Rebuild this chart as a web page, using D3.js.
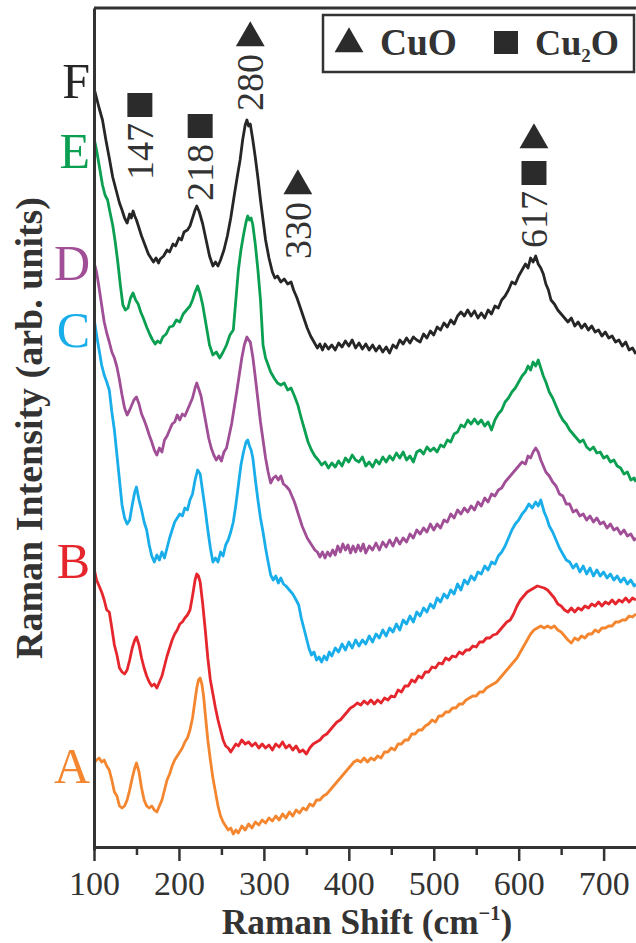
<!DOCTYPE html>
<html>
<head>
<meta charset="utf-8">
<script src="https://d3js.org/d3.v7.min.js"></script>
<style>
  body { margin: 0; background: #fff; }
  svg { display: block; }
</style>
</head>
<body>
<div id="chart"></div>
<script>
// Raman spectra, intensity in arb. units (stacked offsets), x in cm^-1
var specA = [[100,87],[103,90],[106,92],[109,88],[112,90],[115,84],[118,80],[121,70],[124,58],[127,54],[130,44],[133,42],[136,44],[139,50],[142,60],[145,72],[148,82],[150,87],[153,78],[156,62],[159,50],[162,44],[165,42],[168,44],[171,40],[174,38],[177,44],[180,50],[183,60],[186,70],[189,76],[192,84],[195,90],[198,94],[201,98],[204,102],[207,108],[210,112],[213,120],[216,132],[219,150],[221,162],[223,170],[225,172],[227,166],[229,154],[231,136],[234,110],[237,90],[240,72],[243,58],[246,44],[249,34],[252,28],[255,24],[258,20],[261,22],[264,16],[267,20],[270,17],[274,24],[278,20],[282,26],[286,22],[290,28],[294,25],[298,30],[302,27],[306,32],[310,29],[314,34],[318,30],[322,36],[326,32],[330,38],[334,34],[338,40],[342,37],[346,42],[350,40],[354,46],[358,44],[362,50],[366,50],[370,54],[374,56],[378,60],[382,64],[386,68],[390,72],[394,76],[398,80],[402,84],[406,88],[410,90],[414,88],[418,92],[422,88],[426,92],[430,90],[434,94],[438,92],[442,98],[446,98],[450,102],[454,100],[458,106],[462,106],[466,110],[470,110],[474,116],[478,116],[482,120],[486,120],[490,124],[494,126],[498,130],[502,128],[506,134],[510,134],[514,138],[518,138],[522,142],[526,142],[530,146],[534,146],[538,150],[542,152],[546,154],[550,154],[554,158],[558,158],[562,162],[566,164],[570,166],[574,168],[578,172],[582,176],[586,180],[590,184],[594,188],[598,192],[602,198],[606,204],[610,210],[614,216],[618,220],[622,222],[626,224],[630,222],[634,224],[638,222],[642,224],[646,220],[650,218],[654,214],[658,210],[662,207],[666,212],[670,210],[674,214],[678,212],[682,216],[686,216],[690,220],[694,218],[698,222],[702,222],[706,224],[710,224],[714,228],[718,228],[722,230],[726,230],[730,234],[734,233],[738,236]];

var specB = [[100,282],[103,270],[106,264],[109,258],[112,250],[115,240],[118,238],[121,222],[124,205],[127,195],[130,182],[133,178],[136,176],[139,180],[142,190],[145,202],[148,210],[150,213],[153,205],[156,192],[159,182],[162,174],[165,168],[168,164],[171,166],[174,162],[177,168],[180,174],[183,184],[186,194],[189,202],[192,210],[195,216],[198,220],[201,226],[204,228],[207,232],[210,235],[213,240],[216,254],[219,270],[221,276],[223,274],[225,268],[228,246],[231,220],[234,192],[237,170],[240,156],[243,142],[246,130],[249,120],[252,110],[255,104],[258,102],[261,98],[264,102],[267,106],[270,104],[274,110],[278,106],[282,108],[286,104],[290,107],[294,102],[298,106],[302,102],[306,105],[310,100],[314,106],[318,103],[322,108],[326,102],[330,105],[334,100],[338,104],[342,98],[346,100],[350,96],[354,102],[358,106],[362,108],[366,110],[370,114],[374,116],[378,120],[382,124],[386,128],[390,130],[394,134],[398,138],[402,142],[406,144],[410,147],[414,145],[418,149],[422,146],[426,150],[430,146],[434,150],[438,147],[442,152],[446,150],[450,154],[454,153],[458,160],[462,158],[466,164],[470,164],[474,170],[478,168],[482,174],[486,172],[490,178],[494,178],[498,183],[502,182],[506,187],[510,186],[514,192],[518,190],[522,194],[526,193],[530,198],[534,196],[538,200],[542,200],[546,204],[550,203],[554,208],[558,208],[562,212],[566,212],[570,215],[574,216],[578,220],[582,224],[586,228],[590,230],[594,236],[598,244],[602,250],[606,254],[610,258],[614,260],[618,262],[622,264],[626,263],[630,262],[634,260],[638,256],[642,252],[646,246],[650,244],[654,240],[658,238],[662,242],[666,238],[670,242],[674,240],[678,244],[682,242],[686,246],[690,244],[694,248],[698,244],[702,248],[706,246],[710,250],[714,246],[718,250],[722,248],[726,252],[730,248],[734,252],[738,250]];

var specC = [[100,532],[103,515],[106,500],[109,485],[112,475],[115,468],[118,460],[121,438],[124,420],[127,395],[130,370],[133,345],[136,332],[139,326],[142,330],[145,345],[148,358],[150,363],[153,350],[156,340],[159,328],[162,320],[165,305],[168,294],[171,288],[174,295],[177,290],[180,298],[183,292],[186,302],[189,312],[192,320],[195,328],[198,332],[201,336],[204,334],[207,342],[210,340],[213,350],[216,356],[219,370],[222,380],[225,376],[228,358],[231,340],[234,320],[237,302],[240,288],[243,292],[246,288],[249,298],[252,294],[255,305],[258,310],[261,318],[264,328],[267,345],[270,365],[273,385],[276,398],[279,408],[281,410],[283,404],[285,400],[287,392],[290,370],[293,350],[296,332],[299,318],[302,302],[305,288],[308,275],[311,270],[314,274],[317,267],[320,272],[323,266],[326,264],[330,260],[334,256],[338,250],[341,245],[344,232],[347,222],[350,212],[353,202],[356,195],[359,198],[362,190],[365,193],[368,188],[371,194],[374,190],[377,198],[380,194],[384,202],[388,198],[392,206],[396,200],[400,208],[404,202],[408,210],[412,204],[416,210],[420,206],[424,214],[428,208],[432,216],[436,212],[440,220],[444,214],[448,222],[452,218],[456,226],[460,220],[464,230],[468,226],[472,234],[476,228],[480,238],[484,234],[488,242],[492,238],[496,246],[500,242],[504,252],[508,248],[512,256],[516,252],[520,260],[524,256],[528,266],[532,260],[536,270],[540,266],[544,274],[548,270],[552,278],[556,276],[560,284],[564,280],[568,288],[572,286],[576,294],[580,298],[584,304],[588,312],[592,320],[596,326],[600,330],[604,336],[608,340],[612,346],[616,342],[620,348],[623,344],[626,350],[628,344],[630,338],[633,332],[636,324],[640,318],[644,310],[648,302],[652,296],[656,290],[660,288],[664,282],[668,286],[672,278],[676,284],[680,276],[684,282],[688,274],[692,280],[696,274],[700,278],[704,272],[708,276],[712,270],[716,274],[720,268],[724,272],[728,266],[732,270],[736,264],[738,266]];

var specD = [[100,588],[103,578],[106,562],[109,545],[112,528],[115,517],[118,508],[121,498],[124,492],[127,483],[130,470],[133,455],[136,442],[139,435],[142,440],[145,446],[147,450],[150,453],[153,446],[156,436],[159,430],[162,423],[165,415],[168,408],[171,400],[174,395],[177,402],[180,398],[183,410],[186,414],[189,420],[192,426],[195,428],[198,435],[201,430],[204,436],[207,434],[210,440],[213,446],[216,452],[219,462],[221,467],[223,462],[226,454],[229,440],[232,426],[235,412],[238,402],[241,395],[244,390],[247,394],[250,389],[253,398],[256,402],[259,414],[262,426],[265,442],[268,458],[271,475],[274,492],[277,505],[280,513],[282,510],[284,508],[287,493],[290,472],[293,450],[296,428],[299,410],[302,392],[305,378],[308,367],[311,372],[314,374],[317,370],[320,374],[323,366],[326,364],[330,360],[333,354],[336,348],[339,340],[342,332],[345,324],[348,318],[351,312],[354,308],[357,304],[360,300],[363,298],[366,293],[369,298],[372,292],[375,298],[378,294],[381,300],[384,295],[387,304],[390,298],[393,306],[396,300],[399,305],[402,297],[405,304],[408,298],[411,305],[414,299],[417,306],[420,297],[424,304],[428,300],[432,307],[436,300],[440,308],[444,303],[448,310],[452,304],[456,312],[460,306],[464,312],[468,308],[472,316],[476,312],[480,320],[484,316],[488,322],[492,318],[496,326],[500,320],[504,326],[508,322],[512,330],[516,328],[520,336],[524,332],[528,340],[532,336],[536,342],[540,338],[544,344],[548,340],[552,348],[556,344],[560,352],[564,348],[568,356],[572,354],[576,360],[580,362],[584,368],[588,372],[592,376],[596,380],[600,384],[604,388],[608,386],[611,394],[614,392],[617,398],[620,402],[623,398],[626,390],[629,384],[632,378],[636,374],[640,368],[644,364],[648,356],[652,354],[656,346],[660,346],[664,338],[668,340],[672,334],[676,336],[680,330],[684,334],[688,328],[692,332],[696,326],[700,328],[704,322],[708,326],[712,320],[716,322],[720,316],[724,320],[728,314],[732,316],[736,310],[738,312]];

var specE = [[100,712],[103,700],[106,685],[110,665],[113,655],[116,650],[119,637],[122,625],[125,608],[128,588],[131,565],[134,545],[137,540],[140,542],[143,552],[146,557],[149,550],[152,546],[155,538],[158,532],[162,523],[166,515],[169,510],[172,506],[175,509],[178,507],[181,513],[185,516],[189,523],[193,524],[197,530],[201,528],[205,536],[209,540],[213,544],[216,550],[219,558],[222,564],[225,556],[228,545],[232,525],[236,505],[240,495],[244,498],[248,492],[252,498],[256,505],[260,515],[264,520],[267,550],[270,580],[273,600],[276,615],[279,628],[281,634],[283,630],[285,632],[287,625],[290,605],[293,580],[296,550],[299,505],[302,492],[305,485],[308,478],[312,472],[316,467],[320,465],[324,467],[328,460],[332,462],[336,454],[340,445],[344,432],[348,420],[352,408],[356,400],[360,394],[364,390],[368,385],[372,388],[376,382],[380,387],[384,383],[388,389],[392,384],[396,392],[400,388],[404,395],[408,390],[412,388],[416,393],[420,384],[424,388],[428,383],[432,390],[436,386],[440,393],[444,388],[448,394],[452,390],[456,397],[460,392],[464,398],[468,390],[472,394],[476,388],[480,398],[484,400],[488,396],[492,403],[496,399],[500,402],[504,398],[508,405],[512,403],[516,410],[520,408],[524,416],[528,418],[532,425],[536,423],[540,430],[544,426],[548,431],[552,426],[556,430],[560,424],[564,428],[568,420],[572,430],[576,436],[580,440],[584,448],[588,452],[592,458],[596,462],[600,468],[604,474],[608,478],[611,484],[614,480],[617,488],[620,484],[623,490],[626,482],[629,474],[632,468],[636,458],[640,452],[644,444],[648,436],[652,430],[656,426],[660,420],[664,416],[668,412],[672,408],[676,410],[680,403],[684,400],[688,403],[692,397],[696,398],[700,392],[704,394],[708,388],[712,390],[716,384],[720,382],[724,376],[728,378],[732,370],[736,372],[738,368]];

var specF = [[100,762],[103,752],[106,742],[110,730],[114,710],[118,692],[122,673],[126,660],[130,647],[133,640],[136,632],[139,627],[142,636],[144,632],[146,639],[148,634],[150,630],[153,622],[156,614],[160,605],[164,596],[167,592],[170,588],[173,592],[176,587],[178,591],[182,594],[186,600],[189,598],[193,606],[196,604],[200,612],[203,610],[206,618],[210,620],[213,624],[216,632],[219,640],[221,644],[224,638],[228,626],[232,610],[236,594],[240,584],[243,588],[246,584],[249,590],[253,600],[257,614],[261,632],[265,654],[269,675],[272,690],[275,710],[278,725],[280,730],[282,724],[284,726],[287,710],[290,692],[293,672],[296,650],[299,630],[302,610],[306,592],[310,578],[313,572],[316,574],[320,568],[324,571],[328,566],[332,568],[335,560],[339,552],[343,542],[347,532],[351,522],[355,514],[359,508],[363,502],[366,506],[369,500],[372,506],[376,501],[380,505],[384,500],[388,507],[392,503],[396,509],[400,504],[404,510],[408,502],[412,507],[416,501],[420,506],[424,500],[428,505],[432,499],[436,504],[440,498],[444,503],[448,497],[452,505],[456,502],[460,510],[464,506],[468,512],[472,507],[476,513],[480,510],[484,508],[488,516],[492,512],[496,519],[500,515],[504,523],[508,520],[512,527],[516,523],[520,530],[524,526],[528,534],[532,538],[536,534],[540,540],[544,534],[548,539],[552,532],[556,537],[560,532],[564,540],[568,536],[572,544],[576,542],[580,550],[584,554],[588,560],[592,568],[596,566],[600,574],[604,580],[608,586],[611,582],[614,592],[617,588],[620,594],[623,586],[626,582],[629,576],[632,566],[635,560],[638,550],[642,546],[646,540],[650,536],[654,532],[658,528],[662,532],[666,524],[670,528],[674,522],[678,526],[682,520],[686,524],[690,518],[694,520],[698,514],[702,518],[706,512],[710,514],[714,508],[718,510],[722,504],[726,508],[730,500],[734,502],[738,496]];

var sampleNames = ["A", "B", "C", "D", "E", "F"];
var sampleColors = ["#f4862f", "#e5262d", "#19aeea", "#a04e96", "#0b9f52", "#262626"];
var spectra = [specA, specB, specC, specD, specE, specF];

var xTicks = [100, 200, 300, 400, 500, 600, 700];
var xMinorTicks = [150, 250, 350, 450, 550, 650, 750];

// peak annotations: label, phase markers (tri = CuO, sq = Cu2O)
var peakLabels = ["147", "218", "280", "330", "617"];
var peakMarkers = [["sq"], ["sq"], ["tri"], ["tri"], ["tri", "sq"]];

(function () {
  var SERIF = "Liberation Serif";
  var width = 636, height = 943;
  var plotLeft = 94, plotTop = 8, plotBottom = 847;

  var svg = d3.select("#chart").append("svg")
      .attr("width", width)
      .attr("height", height);

  // scale a text's font so that its rendered width hits the width seen in the picture
  function fitWidth(sel, target) {
    sel.each(function () {
      var fs = parseFloat(this.style.fontSize);
      var w = this.getComputedTextLength();
      if (w > 0) d3.select(this).style("font-size", (fs * target / w).toFixed(2) + "px");
    });
  }

  var x = d3.scaleLinear().domain([100, 740]).range([plotLeft, 637.6]);
  var y = d3.scaleLinear().domain([0, 842]).range([850, 8]);

  svg.append("defs").append("clipPath").attr("id", "plotclip")
    .append("rect").attr("x", plotLeft).attr("y", plotTop)
    .attr("width", width - plotLeft).attr("height", plotBottom - plotTop);

  // spectra
  var line = d3.line()
      .x(function (d) { return x(d[0]); })
      .y(function (d) { return y(d[1]); });

  svg.append("g").attr("clip-path", "url(#plotclip)")
    .selectAll("path.spec")
    .data(spectra)
    .enter().append("path")
      .attr("class", "spec")
      .attr("d", function (d) { return line(d); })
      .attr("fill", "none")
      .attr("stroke", function (d, i) { return sampleColors[i]; })
      .attr("stroke-width", 2.8)
      .attr("stroke-linejoin", "round");

  // frame: top line and left spine
  svg.append("line").attr("x1", plotLeft).attr("x2", width).attr("y1", plotTop).attr("y2", plotTop)
    .attr("stroke", "#333").attr("stroke-width", 3);
  svg.append("g").attr("transform", "translate(" + plotLeft + ",0)")
    .call(d3.axisLeft(y).tickValues([]).tickSizeOuter(0))
    .select(".domain").attr("stroke", "#333").attr("stroke-width", 3);

  // bottom axis
  var xAxis = svg.append("g").attr("transform", "translate(0," + plotBottom + ")")
    .call(d3.axisBottom(x).tickValues(xTicks).tickSize(14).tickSizeOuter(0).tickPadding(12).tickFormat(d3.format("d")));
  xAxis.attr("font-family", null).attr("font-size", null);
  xAxis.select(".domain").attr("stroke", "#333").attr("stroke-width", 3);
  xAxis.selectAll(".tick line").attr("stroke", "#333").attr("stroke-width", 2.5);
  var tickText = xAxis.selectAll(".tick text")
    .attr("dy", null).attr("y", 48)
    .style("font-family", SERIF)
    .style("font-size", "32px")
    .attr("fill", "#333");
  fitWidth(tickText, 51);

  svg.append("g").attr("transform", "translate(0," + plotBottom + ")")
    .call(d3.axisBottom(x).tickValues(xMinorTicks).tickSize(8).tickFormat(""))
    .call(function (g) { g.select(".domain").remove(); })
    .selectAll(".tick line").attr("stroke", "#333").attr("stroke-width", 2.5);

  // axis titles
  var xt = svg.append("text")
    .attr("x", 367).attr("y", 934)
    .attr("text-anchor", "middle")
    .style("font-family", SERIF)
    .style("font-size", "32px").style("font-weight", "bold").attr("fill", "#333")
    .text("Raman Shift (cm");
  var sup = xt.append("tspan").attr("dy", -13).style("font-size", "19px").text("\u22121");
  var cl = xt.append("tspan").attr("dy", 13).text(")");
  fitWidth(xt, 291);
  var fsx = parseFloat(xt.style("font-size"));
  sup.style("font-size", (fsx * 0.58) + "px").attr("dy", -fsx * 0.4);
  cl.attr("dy", fsx * 0.4);

  var yt = svg.append("text")
    .attr("transform", "translate(42,428) rotate(-90)")
    .attr("text-anchor", "middle")
    .style("font-family", SERIF)
    .style("font-size", "32px").style("font-weight", "bold").attr("fill", "#333")
    .text("Raman Intensity (arb. units)");
  fitWidth(yt, 462);

  // sample letters
  var letterY = [783, 578, 347, 280, 168, 98];
  var letters = svg.selectAll("text.letter")
    .data(sampleNames)
    .enter().append("text")
      .attr("class", "letter")
      .attr("x", 90)
      .attr("y", function (d, i) { return letterY[i]; })
      .attr("text-anchor", "end")
      .style("font-family", SERIF)
      .style("font-size", "50px")
      .attr("fill", function (d, i) { return sampleColors[i]; })
      .text(function (d) { return d; });

  // peak labels (rotated) with markers above
  var peakAt = [154, 225, 284, 340, 618];       // x placement in cm^-1
  var peakBottom = [180, 201, 111, 259, 248];    // label bottom edge, px
  var tri = d3.symbol().type(d3.symbolTriangle).size(360);
  var markerColor = "#2b2b2b";

  peakLabels.forEach(function (lab, i) {
    var cx = x(peakAt[i]);
    var t = svg.append("text")
      .attr("transform", "translate(" + (cx + 13) + "," + peakBottom[i] + ") rotate(-90)")
      .style("font-family", SERIF)
      .style("font-size", "38px").attr("fill", "#333")
      .text(lab);
    fitWidth(t, 57);
    var yTop = peakBottom[i] - 57 - 5;
    var marks = peakMarkers[i].slice().reverse();
    marks.forEach(function (m, k) {
      var cy = yTop - 13 - k * 35;
      if (m === "sq") {
        svg.append("rect").attr("x", cx - 12.5).attr("y", cy - 12).attr("width", 25).attr("height", 24)
          .attr("fill", markerColor);
      } else {
        svg.append("path").attr("d", tri).attr("transform", "translate(" + cx + "," + (cy + 2) + ")")
          .attr("fill", markerColor);
      }
    });
  });

  // legend
  var lg = svg.append("g");
  lg.append("rect").attr("x", 323).attr("y", 15).attr("width", 311).attr("height", 57)
    .attr("fill", "#fff").attr("stroke", "#333").attr("stroke-width", 2.5);
  lg.append("path").attr("d", tri).attr("transform", "translate(349,44)").attr("fill", markerColor);
  var cuo = lg.append("text").attr("x", 380).attr("y", 55)
    .style("font-family", SERIF)
    .style("font-size", "33px").style("font-weight", "bold").attr("fill", "#333").text("CuO");
  fitWidth(cuo, 77);
  lg.append("rect").attr("x", 494).attr("y", 31).attr("width", 24).attr("height", 23).attr("fill", markerColor);
  var cu2o = lg.append("text").attr("x", 535).attr("y", 55)
    .style("font-family", SERIF)
    .style("font-size", "33px").style("font-weight", "bold").attr("fill", "#333").text("Cu");
  cu2o.append("tspan").attr("dy", 7).style("font-size", "19px").text("2");
  cu2o.append("tspan").attr("dy", -7).text("O");
  fitWidth(cu2o, 85);
})();
</script>
</body>
</html>
